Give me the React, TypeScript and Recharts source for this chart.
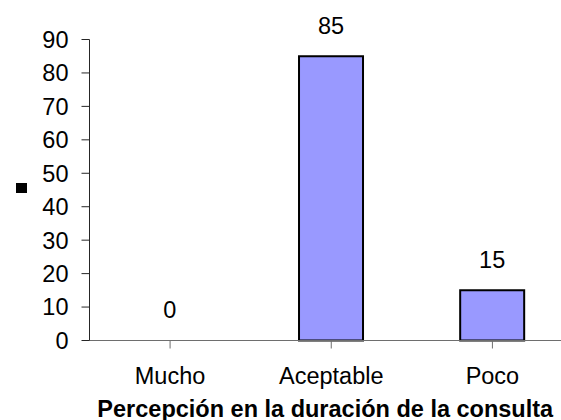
import { Bar, BarChart, Cell, LabelList, XAxis, YAxis } from "recharts";

const categories = ["Mucho", "Aceptable", "Poco"];
const values = [0, 85, 15];
const yTicks = [0, 10, 20, 30, 40, 50, 60, 70, 80, 90];
const axisTitle = "Percepción en la duración de la consulta";

const chartData = categories.map((name, i) => ({ name, value: values[i] }));

const FONT = '"Liberation Sans", Arial, sans-serif';
const FONT_SIZE = 23.5;

export default function App() {
  return (
    <div
      style={{
        position: "absolute",
        left: 0,
        top: 0,
        width: 561,
        height: 420,
        overflow: "hidden",
        background: "#fff"
      }}
    >
      <BarChart
        width={573}
        height={420}
        data={chartData}
        margin={{ top: 39.5, right: 0, left: 0, bottom: 0 }}
        barCategoryGap="30%"
      >
        <XAxis
          dataKey="name"
          height={79.5}
          tickSize={8}
          tickMargin={19}
          axisLine={{ stroke: "#6e6e6e" }}
          tickLine={{ stroke: "#6e6e6e" }}
          tick={{ fill: "#000", fontSize: FONT_SIZE, fontFamily: FONT }}
          interval={0}
          label={({ viewBox }: any) => (
            <text
              x={(viewBox.x + 561) / 2}
              y={416.5}
              textAnchor="middle"
              fill="#000"
              fontSize={FONT_SIZE}
              fontWeight="bold"
              fontFamily={FONT}
            >
              {axisTitle}
            </text>
          )}
        />
        <YAxis
          width={89.5}
          domain={[0, 90]}
          ticks={yTicks}
          interval={0}
          tickSize={8}
          tickMargin={13}
          axisLine={{ stroke: "#262626" }}
          tickLine={{ stroke: "#262626" }}
          tick={{ fill: "#000", fontSize: FONT_SIZE, fontFamily: FONT }}
          label={({ viewBox }: any) => (
            <rect
              x={16}
              y={viewBox.y + viewBox.height / 2 - 7}
              width={11}
              height={10}
              fill="#000"
            />
          )}
        />
        <Bar
          dataKey="value"
          fill="#9999FF"
          stroke="#000"
          strokeWidth={2}
          minPointSize={0.5}
          isAnimationActive={false}
        >
          {chartData.map((d) => (
            <Cell
              key={d.name}
              fill={d.value === 0 ? "none" : "#9999FF"}
              stroke={d.value === 0 ? "none" : "#000"}
            />
          ))}
          <LabelList
            dataKey="value"
            position="top"
            offset={22}
            fill="#000"
            fontSize={FONT_SIZE}
            fontFamily={FONT}
          />
        </Bar>
      </BarChart>
    </div>
  );
}
